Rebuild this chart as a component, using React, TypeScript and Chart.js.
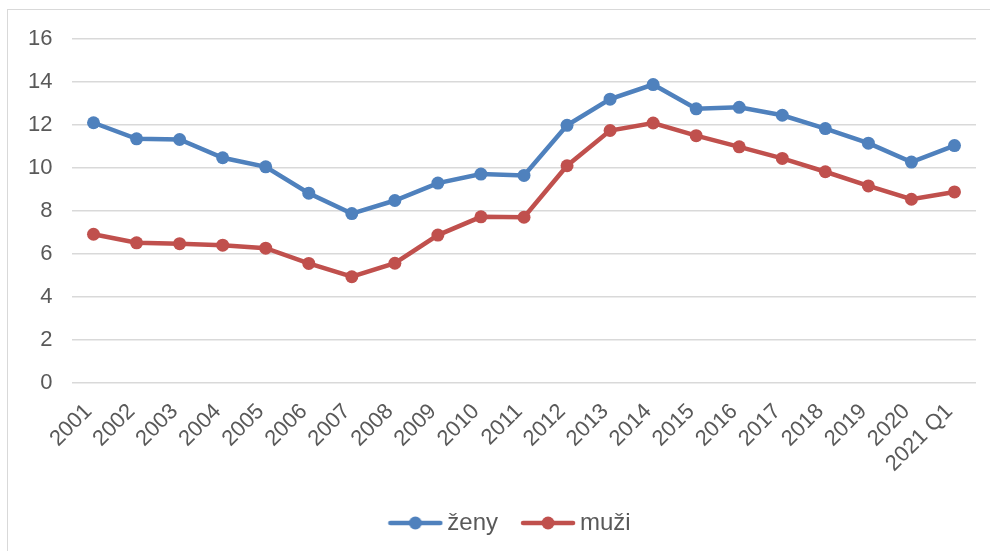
import React, { useEffect, useRef } from "react";
import { Chart, registerables } from "chart.js";

Chart.register(...registerables);

const categories = [
  "2001", "2002", "2003", "2004", "2005", "2006", "2007", "2008", "2009", "2010",
  "2011", "2012", "2013", "2014", "2015", "2016", "2017", "2018", "2019", "2020", "2021 Q1",
];
const zeny = [
  12.1, 11.35, 11.32, 10.47, 10.05, 8.82, 7.87, 8.48, 9.29, 9.71,
  9.65, 11.98, 13.2, 13.88, 12.75, 12.82, 12.45, 11.83, 11.15, 10.27, 11.04,
];
const muzi = [
  6.91, 6.51, 6.47, 6.4, 6.26, 5.55, 4.93, 5.56, 6.87, 7.72,
  7.7, 10.1, 11.74, 12.09, 11.5, 10.98, 10.44, 9.82, 9.16, 8.54, 8.88,
];
const yTicks = [0, 2, 4, 6, 8, 10, 12, 14, 16];
const seriesNames = ["ženy", "muži"];
const seriesColors = ["#4F81BD", "#C0504D"];

const FONT = "'Liberation Sans', Arial, sans-serif";
const TEXT = "#595959";

function legendIcon(color: string): HTMLCanvasElement {
  const c = document.createElement("canvas");
  c.width = 56;
  c.height = 16;
  const ctx = c.getContext("2d")!;
  ctx.strokeStyle = color;
  ctx.lineWidth = 4.5;
  ctx.lineCap = "round";
  ctx.beginPath();
  ctx.moveTo(3, 8);
  ctx.lineTo(53, 8);
  ctx.stroke();
  ctx.fillStyle = color;
  ctx.beginPath();
  ctx.arc(28, 8, 6.5, 0, Math.PI * 2);
  ctx.fill();
  return c;
}

export default function App() {
  const ref = useRef<HTMLCanvasElement>(null);
  useEffect(() => {
    document.body.style.margin = "0";
    const icons = seriesColors.map(legendIcon);
    const chart = new Chart(ref.current!, {
      type: "line",
      data: {
        labels: categories,
        datasets: [zeny, muzi].map((d, i) => ({
          label: seriesNames[i],
          data: d,
          borderColor: seriesColors[i],
          backgroundColor: seriesColors[i],
          borderWidth: 4.5,
          pointRadius: 6.5,
          pointBorderWidth: 0,
          pointBackgroundColor: seriesColors[i],
          tension: 0,
        })),
      },
      options: {
        animation: false,
        responsive: false,
        maintainAspectRatio: false,
        layout: { padding: { left: 50, right: 14, top: 39, bottom: 6 } },
        plugins: {
          tooltip: { enabled: false },
          legend: {
            position: "bottom",
            labels: {
              usePointStyle: true,
              pointStyleWidth: 40,
              padding: 30,
              color: TEXT,
              font: { family: FONT, size: 24 },
              generateLabels: (chart: any) =>
                chart.data.datasets.map((ds: any, i: number) => ({
                  text: ds.label,
                  fillStyle: seriesColors[i],
                  strokeStyle: seriesColors[i],
                  lineWidth: 0,
                  pointStyle: icons[i],
                  datasetIndex: i,
                  fontColor: TEXT,
                })),
            },
          },
        },
        scales: {
          x: {
            offset: true,
            grid: { display: false, drawTicks: false },
            border: { display: false },
            afterFit: (axis: any) => {
              axis.paddingLeft = 0;
              axis.paddingRight = 0;
              axis.height = axis.height - 12;
            },
            ticks: {
              autoSkip: false,
              minRotation: 45,
              maxRotation: 45,
              padding: 16,
              labelOffset: -5,
              color: TEXT,
              font: { family: FONT, size: 22 },
            },
          },
          y: {
            min: 0,
            max: 16,
            afterBuildTicks: (axis: any) => {
              axis.ticks = yTicks.map((v) => ({ value: v }));
            },
            afterFit: (axis: any) => {
              axis.width = 22;
            },
            grid: { color: "#D9D9D9", lineWidth: 1.5, drawTicks: false },
            border: { display: false },
            ticks: {
              mirror: true,
              crossAlign: "far",
              padding: -44,
              color: TEXT,
              font: { family: FONT, size: 22 },
            },
          },
        },
      },
    });
    return () => chart.destroy();
  }, []);
  return (
    <div style={{ position: "relative", width: 990, height: 551, overflow: "hidden", background: "#fff" }}>
      <div
        style={{
          position: "absolute",
          left: 7,
          top: 9,
          width: 1000,
          height: 600,
          borderLeft: "1.5px solid #D9D9D9",
          borderTop: "1.5px solid #D9D9D9",
        }}
      />
      <canvas ref={ref} width={990} height={551} style={{ position: "absolute", left: 0, top: 0 }} />
    </div>
  );
}
